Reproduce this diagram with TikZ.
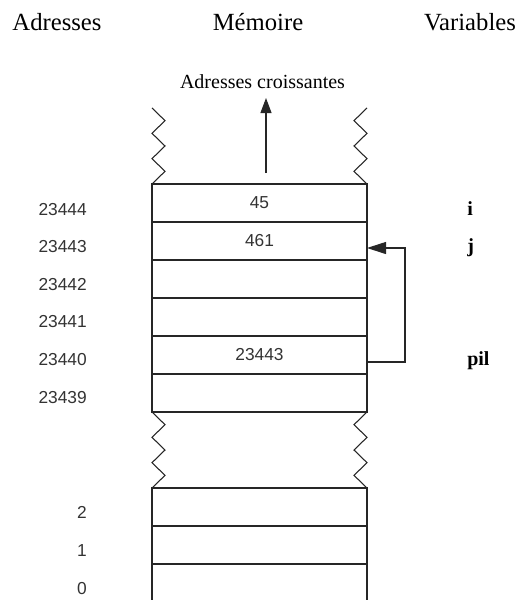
\documentclass[tikz,border=0pt]{standalone}
\usepackage{fontspec}
\setmainfont{Liberation Serif}
\setsansfont{Liberation Sans}
\usetikzlibrary{arrows.meta,positioning}

\tikzset{
  cell/.style={draw=black!85, line width=0.8pt, minimum width=161.25pt, minimum height=28.5pt,
    inner sep=0pt, outer sep=0pt, text=black!80, font=\sffamily\fontsize{13}{15}\selectfont},
  zz/.style={draw=black!85, line width=0.8pt},
  addr/.style={anchor=base east, inner sep=0pt, text=black!80, font=\sffamily\fontsize{13}{15}\selectfont},
  varname/.style={anchor=base west, inner sep=0pt, font=\bfseries\fontsize{15}{18}\selectfont},
  header/.style={anchor=base, inner sep=0pt, font=\fontsize{18.5}{22}\selectfont},
  pointer/.style={draw=black!85, line width=0.8pt, -{Triangle[length=14.25pt, width=9pt]}},
  upArrow/.style={draw=black!85, line width=0.8pt, -{Triangle[length=11.25pt, width=8.25pt]}}
}

\begin{document}
\begin{tikzpicture}[x=0.75pt,y=0.75pt,yscale=-1,xscale=1]
	\useasboundingbox (0,0) rectangle (526,600);
	
	% Titles
	\node [header] (hAddr) at (57,30) {Adresses};
	\node [header] (hMem) at (258,30) {Mémoire};
	\node [header] (hVar) at (470,30) {Variables};
	
	% Memory cells, upper block
	\node [cell] (c44) at (259.5,203) {45};
	\node [cell] (c43) at (259.5,241) {461};
	\node [cell] (c42) at (259.5,279) {};
	\node [cell] (c41) at (259.5,317) {};
	\node [cell] (c40) at (259.5,355) {23443};
	\node [cell] (c39) at (259.5,393) {};
	
	% Memory cells, lower block
	\node [cell] (c2) at (259.5,507) {};
	\node [cell] (c1) at (259.5,545) {};
	\node [cell, draw=none, minimum height=27pt] (c0) at (259.5,582) {};
	\draw [zz] (c0.north west) -- (c0.south west) (c0.north east) -- (c0.south east);
	
	% Zigzag above
	\draw [zz] (c44.north west) -- ++(13,-12.67) -- ++(-13,-12.67) -- ++(13,-12.67) -- ++(-13,-12.67) -- ++(13,-12.67) -- ++(-13,-12.67);
	\draw [zz] (c44.north east) -- ++(-13,-12.67) -- ++(13,-12.67) -- ++(-13,-12.67) -- ++(13,-12.67) -- ++(-13,-12.67) -- ++(13,-12.67);
	% Zigzag between blocks
	\draw [zz] (c39.south west) -- ++(13,12.67) -- ++(-13,12.67) -- ++(13,12.67) -- ++(-13,12.67) -- ++(13,12.67) -- (c2.north west);
	\draw [zz] (c39.south east) -- ++(-13,12.67) -- ++(13,12.67) -- ++(-13,12.67) -- ++(13,12.67) -- ++(-13,12.67) -- (c2.north east);
	
	% Growing addresses
	\node [anchor=base, inner sep=0pt, font=\fontsize{15}{18}\selectfont] (grow) at (262.5,88) {Adresses croissantes};
	\coordinate (up0) at (266,173);
	\coordinate (up1) at (266,98);
	\draw [upArrow] (up0) -- (up1);
	
	% Pointer pil -> j
	\draw [pointer] ([yshift=5.25pt]c40.east) -- ++(38,0) |- ([yshift=5.25pt]c43.east);
	
	% Addresses
	\node [addr] (a44) at (87,215) {23444};
	\node [addr] (a43) at (87,252.5) {23443};
	\node [addr] (a42) at (87,290) {23442};
	\node [addr] (a41) at (87,327.5) {23441};
	\node [addr] (a40) at (87,365) {23440};
	\node [addr] (a39) at (87,403) {23439};
	\node [addr] (a2) at (87,518) {2};
	\node [addr] (a1) at (87,556) {1};
	\node [addr] (a0) at (87,594) {0};
	
	% Variables
	\node [varname] (vi) at (467,215) {i};
	\node [varname] (vj) at (467,252) {j};
	\node [varname] (vpil) at (467,365) {pil};
	
\end{tikzpicture}
\end{document}
